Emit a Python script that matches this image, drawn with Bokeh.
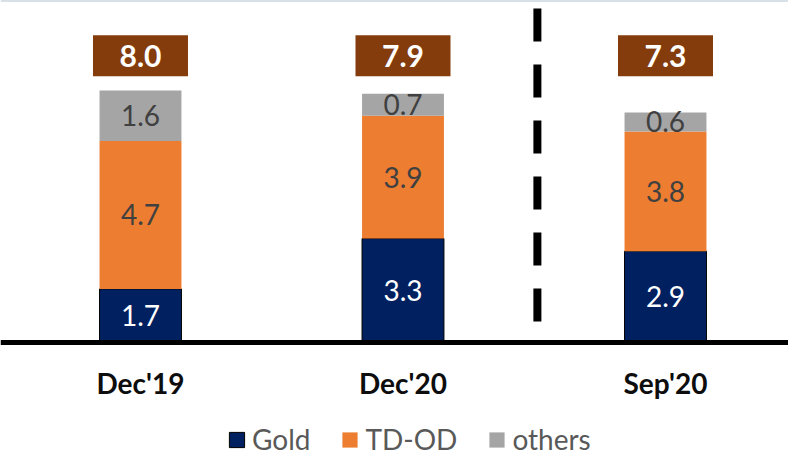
from bokeh.plotting import figure
from bokeh.models import Range1d, ColumnDataSource, Legend, LegendItem, Span
from bokeh.core.properties import value
from bokeh.embed import file_html
from bokeh.resources import INLINE

categories = ["Dec'19", "Dec'20", "Sep'20"]
gold = [1.7, 3.3, 2.9]
tdod = [4.7, 3.9, 3.8]
others = [1.6, 0.7, 0.6]
totals = [8.0, 7.9, 7.3]
series_names = ["Gold", "TD-OD", "others"]

colors = ["#002060", "#ED7D31", "#A5A5A5"]
outline_colors = ["#000000", None, None]
label_colors = ["#FFFFFF", "#404040", "#404040"]
total_fill = "#843C0C"

x = list(range(len(categories)))
divider_x = 1.512
total_label_y = 9.1
y_top = 10.857
y_bottom = -3.619
category_label_y = -1.30
divider_top = 10.6
divider_bottom = 0.67

p = figure(width=788, height=456,
           x_range=Range1d(-0.5333, 2.4686), y_range=Range1d(y_bottom, y_top),
           output_backend="svg", toolbar_location=None,
           min_border_left=0, min_border_right=0, min_border_top=0,
           min_border_bottom=0, x_axis_location=None, y_axis_location=None)
p.outline_line_color = None
p.xgrid.visible = False
p.ygrid.visible = False

src = ColumnDataSource(dict(x=x, gold=gold, tdod=tdod, others=others))
rends = p.vbar_stack(["gold", "tdod", "others"], x="x", width=0.312, source=src,
                     fill_color=colors, line_color=outline_colors, line_width=1)

# baseline (category axis line)
p.add_layout(Span(location=0, dimension="width", line_color="#000000", line_width=5))

# segment labels
series = [gold, tdod, others]
for k, vals in enumerate(series):
    mids = []
    for i in range(len(categories)):
        base = sum(series[j][i] for j in range(k))
        mids.append(base + vals[i] / 2)
    p.text(x=x, y=mids, text=[f"{v:.1f}" for v in vals],
           text_color=label_colors[k], text_font=value("Lato"),
           text_font_size="28px", text_align="center", text_baseline="middle")

# totals boxes
p.rect(x=x, y=[total_label_y] * len(x), width=95, height=41,
       width_units="screen", height_units="screen",
       fill_color=total_fill, line_color=None)
p.text(x=x, y=[total_label_y] * len(x), text=[f"{t:.1f}" for t in totals],
       text_color="#FFFFFF", text_font=value("Lato"), text_font_style="bold",
       text_font_size="30px", text_align="center", text_baseline="middle")

# category labels
p.text(x=x, y=[category_label_y] * len(x), text=categories,
       text_color="#0D0D0D", text_font=value("Lato"), text_font_style="bold",
       text_font_size="28px", text_align="center", text_baseline="middle")

# divider
p.segment(x0=[divider_x], y0=[divider_top], x1=[divider_x], y1=[divider_bottom],
          line_color="#000000", line_width=8, line_dash="33 23")

p.add_layout(Span(location=y_top, dimension="width", line_color="#B4C3D2", line_width=2))

items = [LegendItem(label=n, renderers=[r]) for n, r in zip(series_names, rends)]
legend = Legend(items=items, orientation="horizontal", location=(227, 0),
                glyph_width=19, glyph_height=19, label_standoff=6, spacing=30,
                label_text_font="Lato", label_text_font_size="28px",
                label_text_color="#595959", padding=0, margin=0,
                border_line_color=None, background_fill_alpha=0, label_height=24)
p.add_layout(legend)

open("out.html", "w").write(file_html(p, INLINE))
